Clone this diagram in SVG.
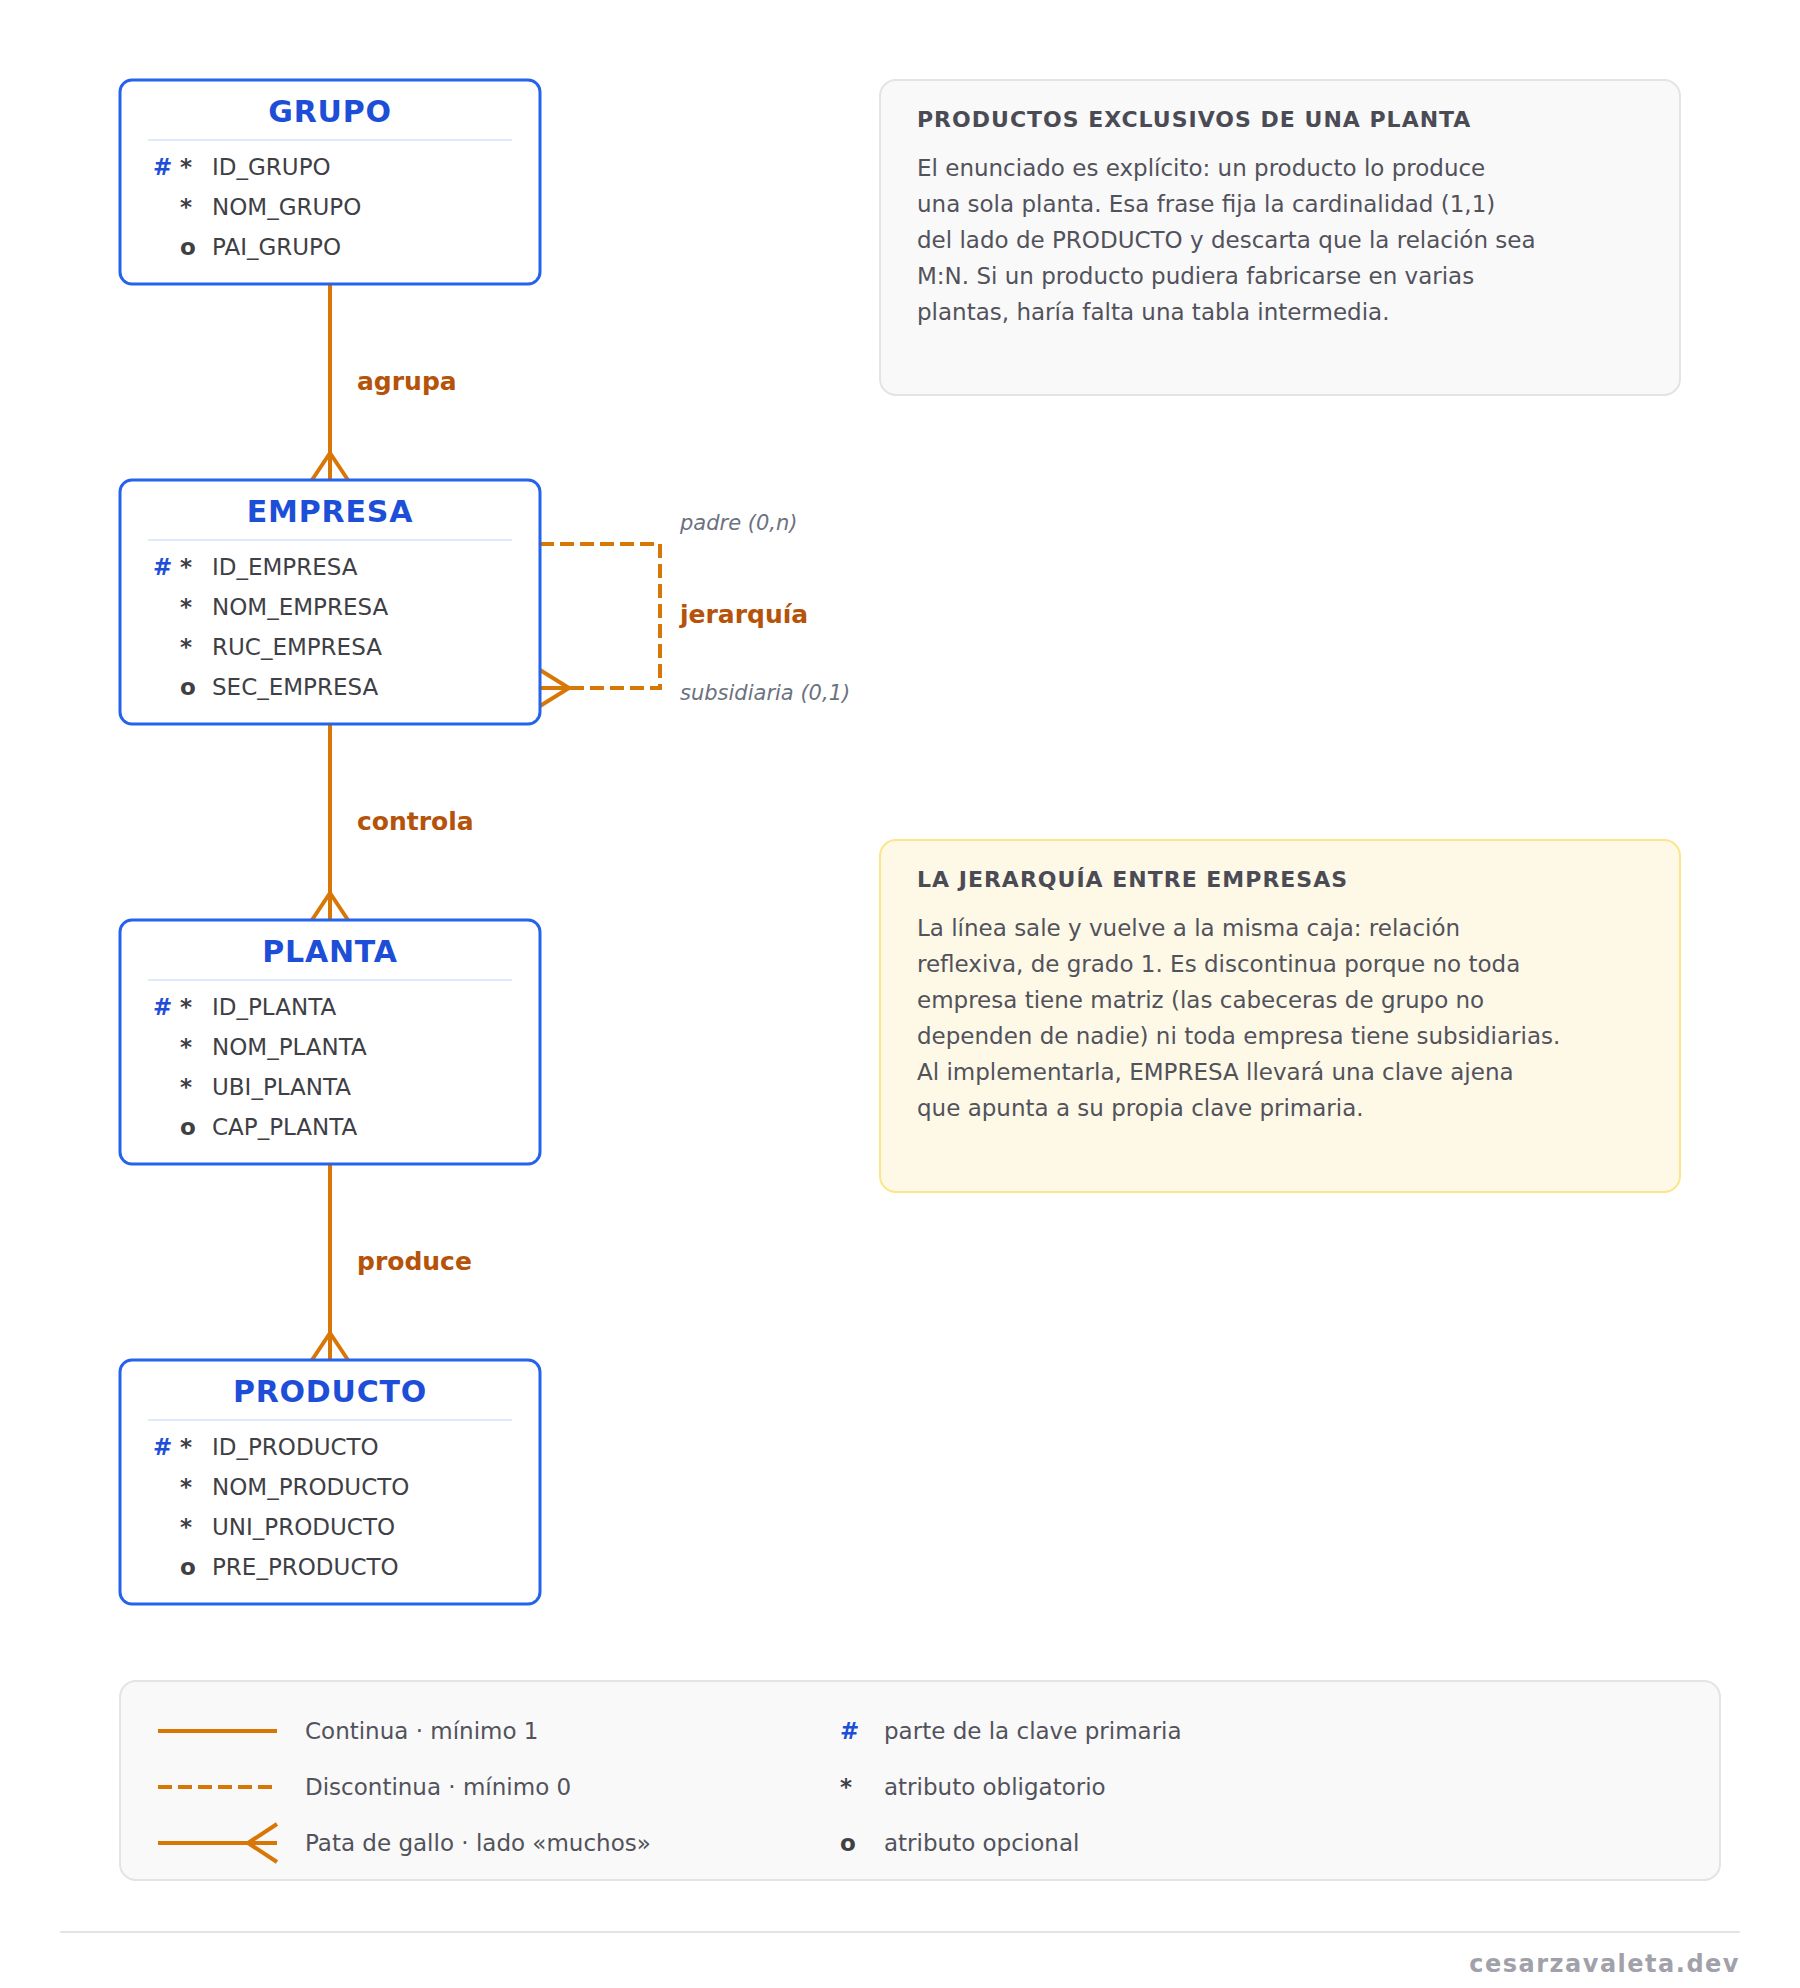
<svg xmlns="http://www.w3.org/2000/svg" width="1800" height="1988" viewBox="0 0 1800 1988">
<style>
text{font-family:"DejaVu Sans","Liberation Sans",sans-serif}
.box{fill:#ffffff;stroke:#2563eb;stroke-width:3}
.sep{stroke:#dbeafe;stroke-width:2}
.ttl{font-size:30px;font-weight:bold;fill:#1d4ed8;text-anchor:middle;letter-spacing:0.8px}
.pk{font-size:23px;font-weight:bold;fill:#1d4ed8}
.mk{font-size:23px;font-weight:bold;fill:#3f3f46}
.at{font-size:23px;fill:#3f3f46}
.con{fill:none;stroke:#d97706;stroke-width:4}
.dash{stroke-dasharray:14 6}
.rel{font-size:25px;font-weight:bold;fill:#b45309}
.role{font-size:21px;font-style:italic;fill:#6b7280}
.nt{font-size:22px;font-weight:bold;fill:#4b4b55;letter-spacing:1px}
.nb{font-size:23px;fill:#52525b}
.lg{font-size:23px;fill:#52525b}
</style>

<g id="connectors">
  <line class="con" x1="330" y1="284" x2="330" y2="480"/>
  <path class="con" d="M312,480 L330,453 L348,480"/>
  <line class="con" x1="330" y1="724" x2="330" y2="920"/>
  <path class="con" d="M312,920 L330,893 L348,920"/>
  <line class="con" x1="330" y1="1164" x2="330" y2="1360"/>
  <path class="con" d="M312,1360 L330,1333 L348,1360"/>
  <path class="con dash" d="M540,544 H660 V688 H569"/>
  <path class="con" d="M540,670 L569,688 L540,706 M540,688 H569"/>
  <text class="rel" x="357" y="390">agrupa</text>
  <text class="rel" x="357" y="830">controla</text>
  <text class="rel" x="357" y="1270">produce</text>
  <text class="role" x="680" y="530">padre (0,n)</text>
  <text class="rel" x="680" y="623">jerarquía</text>
  <text class="role" x="680" y="700">subsidiaria (0,1)</text>
</g>

<g id="grupo">
  <rect class="box" x="120" y="80" width="420" height="204" rx="12"/>
  <text class="ttl" x="330" y="122">GRUPO</text>
  <line class="sep" x1="148" y1="140" x2="512" y2="140"/>
  <text class="pk" x="153" y="175">#</text><text class="mk" x="180" y="175">*</text><text class="at" x="212" y="175">ID_GRUPO</text>
  <text class="mk" x="180" y="215">*</text><text class="at" x="212" y="215">NOM_GRUPO</text>
  <text class="mk" x="180" y="255">o</text><text class="at" x="212" y="255">PAI_GRUPO</text>
</g>

<g id="empresa">
  <rect class="box" x="120" y="480" width="420" height="244" rx="12"/>
  <text class="ttl" x="330" y="522">EMPRESA</text>
  <line class="sep" x1="148" y1="540" x2="512" y2="540"/>
  <text class="pk" x="153" y="575">#</text><text class="mk" x="180" y="575">*</text><text class="at" x="212" y="575">ID_EMPRESA</text>
  <text class="mk" x="180" y="615">*</text><text class="at" x="212" y="615">NOM_EMPRESA</text>
  <text class="mk" x="180" y="655">*</text><text class="at" x="212" y="655">RUC_EMPRESA</text>
  <text class="mk" x="180" y="695">o</text><text class="at" x="212" y="695">SEC_EMPRESA</text>
</g>

<g id="planta">
  <rect class="box" x="120" y="920" width="420" height="244" rx="12"/>
  <text class="ttl" x="330" y="962">PLANTA</text>
  <line class="sep" x1="148" y1="980" x2="512" y2="980"/>
  <text class="pk" x="153" y="1015">#</text><text class="mk" x="180" y="1015">*</text><text class="at" x="212" y="1015">ID_PLANTA</text>
  <text class="mk" x="180" y="1055">*</text><text class="at" x="212" y="1055">NOM_PLANTA</text>
  <text class="mk" x="180" y="1095">*</text><text class="at" x="212" y="1095">UBI_PLANTA</text>
  <text class="mk" x="180" y="1135">o</text><text class="at" x="212" y="1135">CAP_PLANTA</text>
</g>

<g id="producto">
  <rect class="box" x="120" y="1360" width="420" height="244" rx="12"/>
  <text class="ttl" x="330" y="1402">PRODUCTO</text>
  <line class="sep" x1="148" y1="1420" x2="512" y2="1420"/>
  <text class="pk" x="153" y="1455">#</text><text class="mk" x="180" y="1455">*</text><text class="at" x="212" y="1455">ID_PRODUCTO</text>
  <text class="mk" x="180" y="1495">*</text><text class="at" x="212" y="1495">NOM_PRODUCTO</text>
  <text class="mk" x="180" y="1535">*</text><text class="at" x="212" y="1535">UNI_PRODUCTO</text>
  <text class="mk" x="180" y="1575">o</text><text class="at" x="212" y="1575">PRE_PRODUCTO</text>
</g>

<g id="note-productos">
  <rect x="880" y="80" width="800" height="315" rx="16" fill="#f9f9f9" stroke="#e4e4e7" stroke-width="2"/>
  <text class="nt" x="917" y="127">PRODUCTOS EXCLUSIVOS DE UNA PLANTA</text>
  <text class="nb" x="917" y="176">El enunciado es explícito: un producto lo produce</text>
  <text class="nb" x="917" y="212">una sola planta. Esa frase fija la cardinalidad (1,1)</text>
  <text class="nb" x="917" y="248">del lado de PRODUCTO y descarta que la relación sea</text>
  <text class="nb" x="917" y="284">M:N. Si un producto pudiera fabricarse en varias</text>
  <text class="nb" x="917" y="320">plantas, haría falta una tabla intermedia.</text>
</g>

<g id="note-jerarquia">
  <rect x="880" y="840" width="800" height="352" rx="16" fill="#fef9e7" stroke="#fde68a" stroke-width="2"/>
  <text class="nt" x="917" y="887">LA JERARQUÍA ENTRE EMPRESAS</text>
  <text class="nb" x="917" y="936">La línea sale y vuelve a la misma caja: relación</text>
  <text class="nb" x="917" y="972">reflexiva, de grado 1. Es discontinua porque no toda</text>
  <text class="nb" x="917" y="1008">empresa tiene matriz (las cabeceras de grupo no</text>
  <text class="nb" x="917" y="1044">dependen de nadie) ni toda empresa tiene subsidiarias.</text>
  <text class="nb" x="917" y="1080">Al implementarla, EMPRESA llevará una clave ajena</text>
  <text class="nb" x="917" y="1116">que apunta a su propia clave primaria.</text>
</g>

<g id="legend">
  <rect x="120" y="1681" width="1600" height="199" rx="16" fill="#f9f9f9" stroke="#e4e4e7" stroke-width="2"/>
  <line class="con" x1="158" y1="1731" x2="277" y2="1731"/>
  <text class="lg" x="305" y="1739">Continua · mínimo 1</text>
  <line class="con dash" x1="158" y1="1787" x2="277" y2="1787"/>
  <text class="lg" x="305" y="1795">Discontinua · mínimo 0</text>
  <line class="con" x1="158" y1="1843" x2="277" y2="1843"/>
  <path class="con" d="M277,1824 L248,1843 L277,1862"/>
  <text class="lg" x="305" y="1851">Pata de gallo · lado «muchos»</text>
  <text class="pk" x="840" y="1739">#</text>
  <text class="lg" x="884" y="1739">parte de la clave primaria</text>
  <text class="mk" x="840" y="1795">*</text>
  <text class="lg" x="884" y="1795">atributo obligatorio</text>
  <text class="mk" x="840" y="1851">o</text>
  <text class="lg" x="884" y="1851">atributo opcional</text>
</g>

<g id="footer">
  <line x1="60" y1="1932" x2="1740" y2="1932" stroke="#e4e4e7" stroke-width="2"/>
  <text x="1740" y="1972" text-anchor="end" font-size="24" font-weight="bold" fill="#a1a1aa" letter-spacing="1.5">cesarzavaleta.dev</text>
</g>
</svg>
